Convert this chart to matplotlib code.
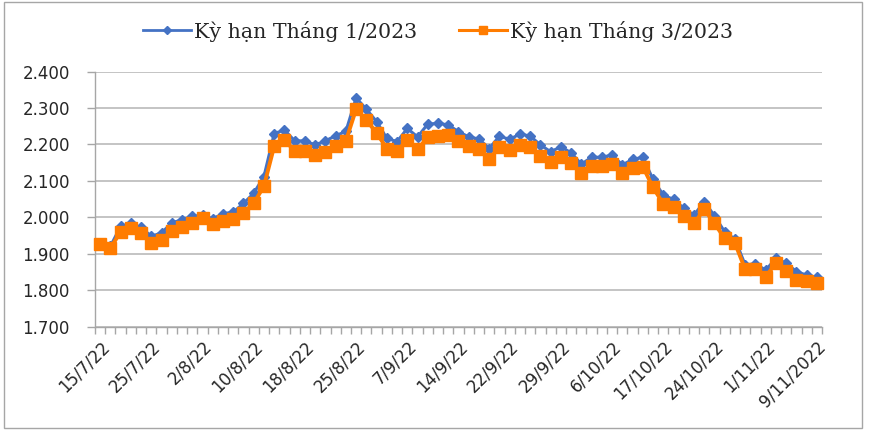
import numpy as np
import matplotlib
matplotlib.use("Agg")
import matplotlib.pyplot as plt
from matplotlib.patches import Rectangle
from matplotlib.lines import Line2D

# ---- data ----
tick_labels = ["15/7/22", "25/7/22", "2/8/22", "10/8/22", "18/8/22", "25/8/22",
               "7/9/22", "14/9/22", "22/9/22", "29/9/22", "6/10/22", "17/10/22",
               "24/10/22", "1/11/22", "9/11/2022"]
label_step = 5

series_names = ["Kỳ hạn Tháng 1/2023", "Kỳ hạn Tháng 3/2023"]

jan_2023 = [1.928, 1.920, 1.975, 1.983, 1.972, 1.948, 1.957, 1.985, 1.993, 2.003,
            2.005, 1.996, 2.010, 2.014, 2.038, 2.066, 2.112, 2.230, 2.240, 2.210,
            2.210, 2.199, 2.210, 2.224, 2.236, 2.328, 2.297, 2.263, 2.217, 2.208,
            2.244, 2.221, 2.256, 2.258, 2.254, 2.235, 2.221, 2.215, 2.189, 2.223,
            2.214, 2.229, 2.223, 2.199, 2.180, 2.194, 2.177, 2.146, 2.165, 2.165,
            2.171, 2.144, 2.159, 2.165, 2.104, 2.061, 2.049, 2.025, 2.006, 2.043,
            2.004, 1.960, 1.940, 1.869, 1.872, 1.855, 1.887, 1.874, 1.851, 1.841,
            1.835]

mar_2023 = [1.926, 1.915, 1.960, 1.970, 1.958, 1.930, 1.938, 1.963, 1.974, 1.983,
            1.999, 1.982, 1.990, 1.995, 2.013, 2.038, 2.086, 2.195, 2.212, 2.183,
            2.183, 2.171, 2.180, 2.196, 2.210, 2.297, 2.267, 2.232, 2.189, 2.183,
            2.212, 2.187, 2.220, 2.223, 2.226, 2.210, 2.196, 2.187, 2.161, 2.192,
            2.185, 2.199, 2.192, 2.168, 2.153, 2.166, 2.150, 2.121, 2.141, 2.141,
            2.146, 2.121, 2.135, 2.139, 2.082, 2.037, 2.027, 2.004, 1.983, 2.022,
            1.983, 1.942, 1.929, 1.857, 1.857, 1.837, 1.874, 1.853, 1.828, 1.826,
            1.819]

y_ticks = [1.7, 1.8, 1.9, 2.0, 2.1, 2.2, 2.3, 2.4]

# ---- style ----
BLUE = "#4472C4"
ORANGE = "#FF7C00"
GRID = "#BFBFBF"
AXIS = "#A6A6A6"
TEXT = "#262626"

W, H = 870, 436
fig = plt.figure(figsize=(W / 100, H / 100), dpi=100)

# outer border
fig.patches.append(Rectangle((4 / W, 1 - 428 / H), 858 / W, 426 / H,
                             transform=fig.transFigure, fill=False,
                             edgecolor=AXIS, lw=1.0))

left, right, top, bottom = 95, 822, 71.7, 326.5
ax = fig.add_axes([left / W, 1 - bottom / H, (right - left) / W, (bottom - top) / H])

x = np.arange(len(jan_2023))
ax.plot(x, jan_2023, color=BLUE, lw=2.2, marker="D", ms=5.5, zorder=3, clip_on=False)
ax.plot(x, mar_2023, color=ORANGE, lw=2.8, marker="s", ms=8, zorder=4, clip_on=False)

ax.set_xlim(-0.5, len(x) - 0.5)
ax.set_ylim(y_ticks[0], y_ticks[-1])

ax.set_yticks(y_ticks)
ax.set_yticklabels([f"{v:.3f}" for v in y_ticks])
ax.yaxis.grid(True, color=GRID, lw=1.3)
ax.set_axisbelow(True)

for s in ["top", "right"]:
    ax.spines[s].set_visible(False)
for s in ["left", "bottom"]:
    ax.spines[s].set_color(AXIS)
    ax.spines[s].set_linewidth(1.0)

ax.tick_params(axis="y", direction="out", length=6, color=AXIS, width=1,
               labelsize=12, pad=12, labelcolor=TEXT)

pos = np.arange(0, len(x), label_step)
ax.set_xticks(pos)
ax.set_xticklabels(tick_labels, rotation=45, ha="right", rotation_mode="anchor")
ax.set_xticks(np.arange(-0.5, len(x), 1), minor=True)
ax.tick_params(axis="x", which="major", length=0, labelsize=12, pad=8, labelcolor=TEXT)
ax.tick_params(axis="x", which="minor", direction="out", length=5, color=AXIS, width=1)

handles = [Line2D([], [], color=BLUE, lw=2.0, marker="D", ms=4.5),
           Line2D([], [], color=ORANGE, lw=2.2, marker="s", ms=6)]
fig.legend(handles, series_names, loc="center", bbox_to_anchor=(438 / W, 1 - 31 / H),
           ncol=2, frameon=False, prop={"family": "DejaVu Serif", "size": 14.8},
           handlelength=2.35, handletextpad=0.15, columnspacing=2.0,
           labelcolor=TEXT)

fig.savefig("out.png", dpi=100)
